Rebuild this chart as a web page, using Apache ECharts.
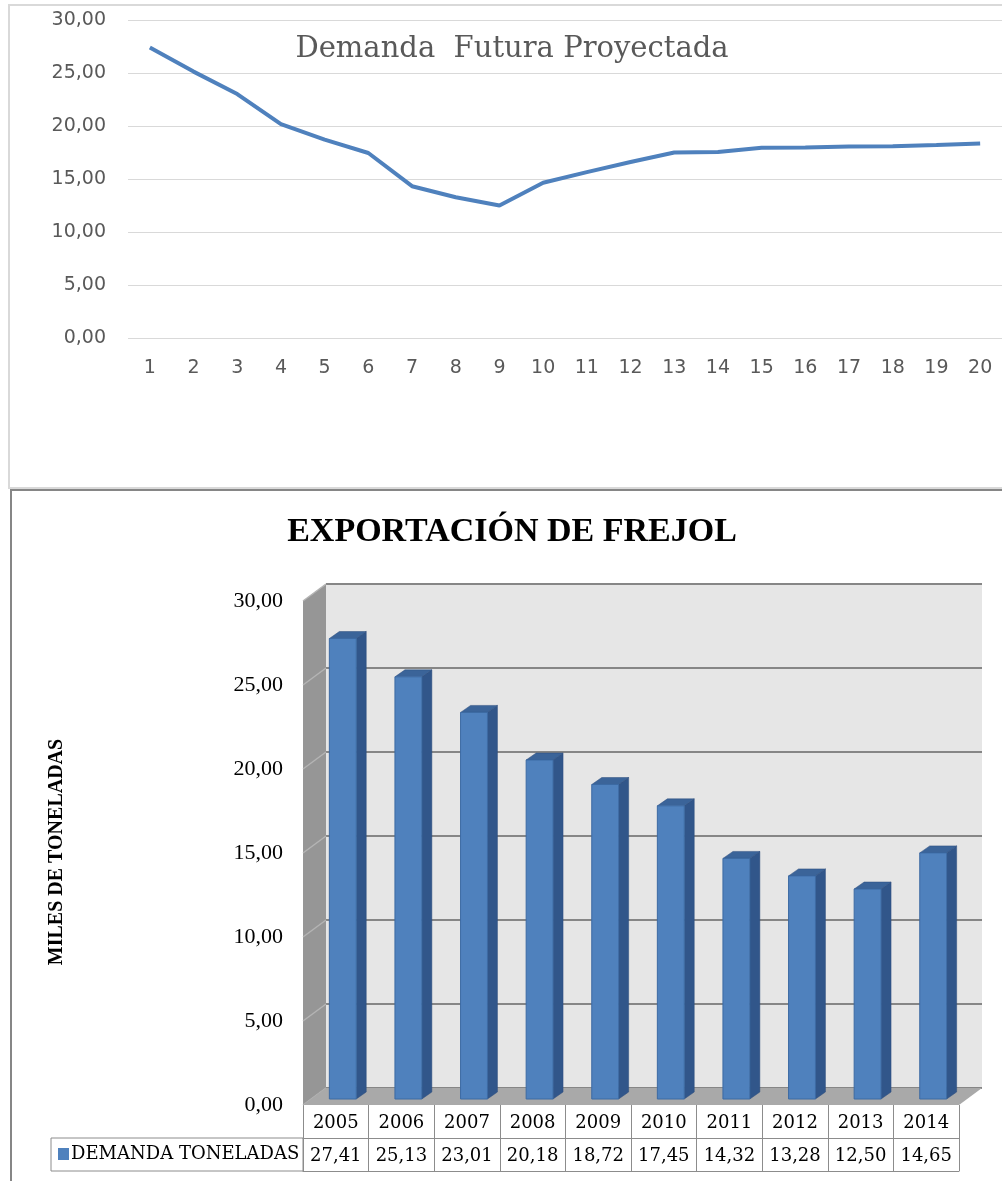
<!DOCTYPE html>
<html>
<head>
<meta charset="utf-8">
<script src="https://cdn.jsdelivr.net/npm/echarts@6/dist/echarts.min.js"></script>
<style>
html,body{margin:0;padding:0;background:#fff;}
#c{width:1002px;height:1181px;}
</style>
</head>
<body>
<div id="c"></div>
<script>
// ---- data ----
const lineTitle = 'Demanda  Futura Proyectada';
const periods = ['1','2','3','4','5','6','7','8','9','10','11','12','13','14','15','16','17','18','19','20'];
const projectedDemand = [27.41, 25.13, 23.01, 20.18, 18.72, 17.45, 14.32, 13.28, 12.50, 14.65,
                         15.65, 16.60, 17.50, 17.55, 17.95, 17.98, 18.07, 18.10, 18.20, 18.36];
const barTitle = 'EXPORTACIÓN DE FREJOL';
const yAxisName = 'MILES DE TONELADAS';
const seriesName = 'DEMANDA TONELADAS';
const years = ['2005','2006','2007','2008','2009','2010','2011','2012','2013','2014'];
const demand = [27.41, 25.13, 23.01, 20.18, 18.72, 17.45, 14.32, 13.28, 12.50, 14.65];
const yTicks = [0, 5, 10, 15, 20, 25, 30];

const fmt = v => v.toFixed(2).replace('.', ',');
const yMin = yTicks[0], yMax = yTicks[yTicks.length - 1], yStep = yTicks[1] - yTicks[0];

// ---- style constants ----
const DEPTH = [23, -17];      // floor depth vector
const BAR_SHIFT = [7, -6];    // bar plane position inside the depth
const BAR_DEPTH = [10, -7];
const BAR_FRAC = 0.41;
const serif = 'Liberation Serif';
const tableFont = 'DejaVu Serif';

const chart = echarts.init(document.getElementById('c'), null, {renderer: 'canvas'});

const option = {
  animation: false,
  backgroundColor: '#ffffff',
  legend: {
    data: [seriesName],
    left: 58, top: 1145,
    icon: 'rect', itemWidth: 11, itemHeight: 12, itemGap: 4,
    padding: 0,
    textStyle: {fontFamily: tableFont, fontSize: 18, color: '#000', padding: [0, 0, 0, -3]}
  },
  grid: [
    {left: 128, top: 20, width: 880, height: 318},
    {left: 303, top: 601, width: 656, height: 504},
    {left: 326, top: 584, width: 656, height: 504, show: true, backgroundColor: '#e6e6e6', borderWidth: 0}
  ],
  xAxis: [
    {gridIndex: 0, type: 'category', data: periods, boundaryGap: true,
     axisLine: {show: false}, axisTick: {show: false},
     axisLabel: {color: '#595959', fontFamily: 'DejaVu Sans', fontSize: 19, margin: 21, interval: 0}},
    {gridIndex: 1, type: 'category', data: years, boundaryGap: true,
     axisLine: {show: false},
     axisTick: {show: true, length: 33, interval: 0, lineStyle: {color: '#8c8c8c', width: 1}},
     axisLabel: {color: '#000', fontFamily: tableFont, fontSize: 18, margin: 9, interval: 0, hideOverlap: false}},
    {gridIndex: 1, type: 'category', data: years, boundaryGap: true, position: 'bottom', offset: 33,
     axisLine: {show: true, lineStyle: {color: '#8c8c8c', width: 1}},
     axisTick: {show: true, length: 33, interval: 0, lineStyle: {color: '#8c8c8c', width: 1}},
     axisLabel: {color: '#000', fontFamily: tableFont, fontSize: 18, margin: 9, interval: 0, hideOverlap: false,
                 formatter: (v, i) => fmt(demand[i])}},
    {gridIndex: 1, type: 'category', data: years, boundaryGap: true, position: 'bottom', offset: 66,
     axisLine: {show: true, lineStyle: {color: '#8c8c8c', width: 1}},
     axisTick: {show: false}, axisLabel: {show: false}},
    {gridIndex: 2, type: 'category', data: years, show: false}
  ],
  yAxis: [
    {gridIndex: 0, type: 'value', min: yMin, max: yMax, interval: yStep,
     axisLine: {show: false}, axisTick: {show: false},
     splitLine: {lineStyle: {color: '#d9d9d9', width: 1}},
     axisLabel: {color: '#595959', fontFamily: 'DejaVu Sans', fontSize: 19, margin: 22, formatter: v => fmt(v)}},
    {gridIndex: 1, type: 'value', min: yMin, max: yMax, interval: yStep,
     axisLine: {show: false}, axisTick: {show: false}, splitLine: {show: false},
     axisLabel: {color: '#000', fontFamily: serif, fontSize: 22, margin: 20, formatter: v => fmt(v)}},
    {gridIndex: 2, type: 'value', min: yMin, max: yMax, interval: yStep,
     axisLine: {show: false}, axisTick: {show: false}, axisLabel: {show: false},
     splitLine: {lineStyle: {color: '#868686', width: 2}}}
  ],
  graphic: [
    {type: 'rect', shape: {x: 9, y: 5, width: 1020, height: 483}, style: {fill: 'none', stroke: '#d9d9d9', lineWidth: 2}, z: 0},
    {type: 'rect', shape: {x: 11, y: 490, width: 1020, height: 720}, style: {fill: 'none', stroke: '#868686', lineWidth: 2}, z: 0},
    {type: 'text', x: 512, y: 49, style: {text: lineTitle, fill: '#595959', font: '29px "DejaVu Serif"', align: 'center', verticalAlign: 'middle'}, z: 10},
    {type: 'text', x: 512, y: 532, style: {text: barTitle, fill: '#000', font: 'bold 34px "Liberation Serif"', align: 'center', verticalAlign: 'middle'}, z: 10},
    {type: 'text', x: 57, y: 852, rotation: Math.PI / 2, style: {text: yAxisName, fill: '#000', font: 'bold 20px "Liberation Serif"', align: 'center', verticalAlign: 'middle'}, z: 10},
    {type: 'rect', shape: {x: 51, y: 1138, width: 252, height: 33}, style: {fill: 'none', stroke: '#8c8c8c', lineWidth: 1}, z: 10}
  ],
  series: [
    {
      type: 'line', xAxisIndex: 0, yAxisIndex: 0, data: projectedDemand,
      symbol: 'none', lineStyle: {color: '#4f81bd', width: 4}, itemStyle: {color: '#4f81bd'}, z: 5
    },
    {
      // side wall, floor and side-wall gridlines of the 3D frame
      type: 'custom', xAxisIndex: 1, yAxisIndex: 1, data: [0], z: 1, silent: true,
      renderItem: function (params, api) {
        const cs = params.coordSys;
        const gx = cs.x, right = cs.x + cs.width;
        const y0 = api.coord([0, yMin])[1];
        const yTop = api.coord([0, yMax])[1];
        const children = [];
        children.push({type: 'polygon', shape: {points: [[gx, yTop], [gx + DEPTH[0], yTop + DEPTH[1]], [gx + DEPTH[0], y0 + DEPTH[1]], [gx, y0]]},
          style: {fill: '#969696'}});
        yTicks.forEach(t => {
          const yy = api.coord([0, t])[1];
          children.push({type: 'line', shape: {x1: gx, y1: yy, x2: gx + DEPTH[0], y2: yy + DEPTH[1]},
            style: {stroke: '#b4b4b4', lineWidth: 1.5}});
        });
        children.push({type: 'polygon', shape: {points: [[gx, y0], [gx + DEPTH[0], y0 + DEPTH[1]], [right + DEPTH[0], y0 + DEPTH[1]], [right, y0]]},
          style: {fill: '#a9a9a9'}});
        return {type: 'group', children: children};
      }
    },
    {
      name: seriesName,
      type: 'custom', xAxisIndex: 1, yAxisIndex: 1, z: 3,
      itemStyle: {color: '#4f81bd'},
      data: demand.map((v, i) => [i, v]),
      renderItem: function (params, api) {
        const i = api.value(0), v = api.value(1);
        const top = api.coord([i, v]);
        const bot = api.coord([i, 0]);
        const bw = api.size([1, 0])[0] * BAR_FRAC;
        const cx = top[0] + BAR_SHIFT[0];
        const xl = cx - bw / 2, xr = cx + bw / 2;
        const yt = top[1] + BAR_SHIFT[1], yb = bot[1] + BAR_SHIFT[1];
        const dx = BAR_DEPTH[0], dy = BAR_DEPTH[1];
        return {type: 'group', children: [
          {type: 'polygon', shape: {points: [[xr, yt], [xr + dx, yt + dy], [xr + dx, yb + dy], [xr, yb]]},
           style: {fill: '#31568a', stroke: '#2c4d7c', lineWidth: 0.5}},
          {type: 'polygon', shape: {points: [[xl, yt], [xl + dx, yt + dy], [xr + dx, yt + dy], [xr, yt]]},
           style: {fill: '#3b6499', stroke: '#2c4d7c', lineWidth: 0.5}},
          {type: 'rect', shape: {x: xl, y: yt, width: bw, height: yb - yt},
           style: {fill: '#4f81bd', stroke: '#3c6aa3', lineWidth: 1}}
        ]};
      }
    }
  ]
};
chart.setOption(option);
</script>
</body>
</html>
